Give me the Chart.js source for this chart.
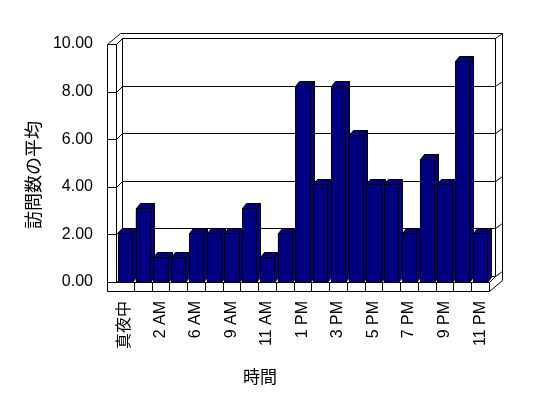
<!DOCTYPE html>
<html>
<head>
<meta charset="utf-8">
<script src="https://cdn.jsdelivr.net/npm/chart.js@4.4.0/dist/chart.umd.min.js"></script>
<style>
  html, body { margin: 0; padding: 0; background: #fff; }
  canvas { display: block; }
</style>
</head>
<body>
<canvas id="chart" width="548" height="398"></canvas>
<script>
// data
const hours = ['真夜中', '1 AM', '2 AM', '5 AM', '6 AM', '8 AM', '9 AM', '10 AM', '11 AM', '正午',
  '1 PM', '2 PM', '3 PM', '4 PM', '5 PM', '6 PM', '7 PM', '8 PM', '9 PM', '10 PM', '11 PM'];
const avgVisits = [2.06, 3.09, 1.03, 1.03, 2.06, 2.06, 2.06, 3.09, 1.03, 2.06,
  8.25, 4.12, 8.25, 6.19, 4.12, 4.12, 2.06, 5.15, 4.12, 9.28, 2.06];
const yMin = 0, yMax = 10, yStep = 2;
const yTitle = '訪問数の平均';
const xTitle = '時間';

const NAVY = '#000080';
const FONT = '"Liberation Sans", Arial, "Noto Sans CJK JP", sans-serif';
const JP_FONT = '"Noto Sans CJK JP", sans-serif';
const DEPTH = { x: 6, y: -6 };    // front plane -> inner face of back wall
const OUTER = { x: 13, y: -11 };  // front plane -> outer face of back wall
const WALL = 9;                   // thickness of left wall and floor
const BAR_D = { x: 4, y: -5 };    // depth of each bar

const p = v => Math.round(v) + 0.5;

function line(ctx, x1, y1, x2, y2) {
  ctx.beginPath();
  ctx.moveTo(p(x1), p(y1));
  ctx.lineTo(p(x2), p(y2));
  ctx.stroke();
}

function poly(ctx, pts) {
  ctx.beginPath();
  pts.forEach(([x, y], i) => i ? ctx.lineTo(p(x), p(y)) : ctx.moveTo(p(x), p(y)));
  ctx.closePath();
  ctx.fill();
  ctx.stroke();
}

// walls, floor and gridlines of the 3D box
const wallsPlugin = {
  id: 'walls',
  beforeDatasetsDraw(chart) {
    const { ctx, chartArea: a, scales: { x, y } } = chart;
    const L0 = a.left - WALL, L = a.left, R = a.right, T = a.top, B = a.bottom, B1 = a.bottom + WALL;
    ctx.save();
    ctx.strokeStyle = '#000';
    ctx.lineWidth = 1;

    // back wall
    line(ctx, L0 + OUTER.x, T + OUTER.y, R + OUTER.x, T + OUTER.y);
    line(ctx, R + OUTER.x, T + OUTER.y, R + OUTER.x, B1 + OUTER.y);
    line(ctx, L + DEPTH.x, T + DEPTH.y, R + DEPTH.x, T + DEPTH.y);
    line(ctx, R + DEPTH.x, T + DEPTH.y, R + DEPTH.x, B + DEPTH.y);
    line(ctx, L + DEPTH.x, T + DEPTH.y, L + DEPTH.x, B + DEPTH.y);
    line(ctx, L + DEPTH.x, B + DEPTH.y, R + DEPTH.x, B + DEPTH.y);

    // gridlines
    y.ticks.forEach(t => {
      const yy = y.getPixelForValue(t.value);
      line(ctx, L0, yy, L, yy);
      line(ctx, L, yy, L + DEPTH.x, yy + DEPTH.y);
      line(ctx, L + DEPTH.x, yy + DEPTH.y, R + DEPTH.x, yy + DEPTH.y);
      line(ctx, R + DEPTH.x, yy + DEPTH.y, R + OUTER.x, yy + OUTER.y);
    });

    // left wall
    line(ctx, L0, T, L0, B1);
    line(ctx, L, T, L, B);
    line(ctx, L0, T, L, T);
    line(ctx, L0, T, L0 + OUTER.x, T + OUTER.y);
    line(ctx, L, T, L + DEPTH.x, T + DEPTH.y);

    // floor
    line(ctx, L0, B, R, B);
    line(ctx, L0, B1, R, B1);
    line(ctx, R, B, R, B1);
    line(ctx, R, B, R + DEPTH.x, B + DEPTH.y);
    line(ctx, R, B1, R + OUTER.x, B1 + OUTER.y);
    for (let i = 1; i < hours.length; i++) {
      const xx = (x.getPixelForValue(i - 1) + x.getPixelForValue(i)) / 2;
      line(ctx, xx, B, xx, B1);
    }
    ctx.restore();
  },
  afterDatasetsDraw(chart) {
    const { ctx } = chart;
    const meta = chart.getDatasetMeta(0);
    ctx.save();
    ctx.strokeStyle = '#000';
    ctx.fillStyle = NAVY;
    ctx.lineWidth = 1;
    meta.data.forEach(bar => {
      const { x, y, base, width } = bar.getProps(['x', 'y', 'base', 'width'], true);
      const l = x - width / 2, r = x + width / 2;
      poly(ctx, [[l, y], [r, y], [r, base], [l, base]]);
      poly(ctx, [[r, y], [r + BAR_D.x, y + BAR_D.y], [r + BAR_D.x, base + BAR_D.y], [r, base]]);
      poly(ctx, [[l, y], [l + BAR_D.x, y + BAR_D.y], [r + BAR_D.x, y + BAR_D.y], [r, y]]);
    });
    ctx.restore();
  },
  afterDraw(chart) {
    const { ctx } = chart;
    ctx.save();
    ctx.fillStyle = '#000';
    ctx.textAlign = 'center';
    ctx.textBaseline = 'middle';
    ctx.font = '17px ' + JP_FONT;
    ctx.fillText(xTitle, 260, 377);
    ctx.translate(33, 175);
    ctx.rotate(-Math.PI / 2);
    ctx.font = '18px ' + JP_FONT;
    ctx.fillText(yTitle, 0, 0);
    ctx.restore();
  }
};

new Chart(document.getElementById('chart'), {
  type: 'bar',
  data: {
    labels: hours,
    datasets: [{
      label: yTitle,
      data: avgVisits,
      backgroundColor: NAVY,
      borderColor: '#000',
      borderWidth: 1,
      barPercentage: 0.8,
      categoryPercentage: 1
    }]
  },
  options: {
    responsive: false,
    animation: false,
    layout: { padding: { top: 44, right: 59, left: 0, bottom: 0 } },
    plugins: { legend: { display: false }, tooltip: { enabled: false } },
    scales: {
      x: {
        grid: { display: false, drawTicks: false },
        border: { display: false },
        afterFit: s => { s.height = 116; },
        ticks: {
          autoSkip: false,
          minRotation: 90,
          maxRotation: 90,
          padding: 19,
          color: '#000',
          font: { family: FONT, size: 16 },
          callback: (v, i) => i % 2 === 0 ? hours[i] : ''
        }
      },
      y: {
        min: yMin,
        max: yMax,
        grid: { display: false, drawTicks: false },
        border: { display: false },
        afterFit: s => { s.width = 116; },
        ticks: {
          stepSize: yStep,
          padding: 23,
          color: '#000',
          font: { family: FONT, size: 16 },
          callback: v => v.toFixed(2)
        }
      }
    }
  },
  plugins: [wallsPlugin]
});
</script>
</body>
</html>
